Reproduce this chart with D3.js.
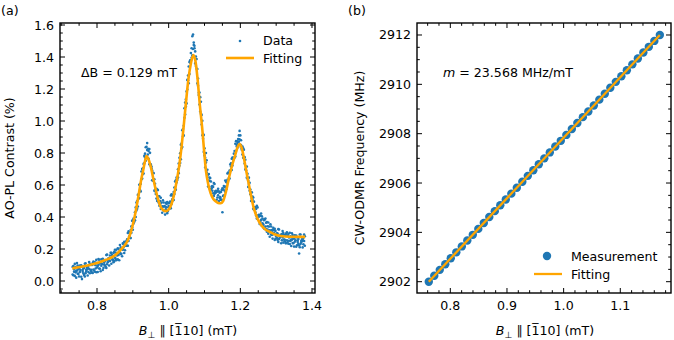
<!DOCTYPE html>
<meta charset="utf-8">
<script src="https://d3js.org/d3.v7.min.js"></script>
<style>
  body { margin: 0; background: #fff; }
  svg text { font-family: "DejaVu Sans", sans-serif; fill: #000; }
</style>
<body>
<script>
  // ---------- panel (a): AO-PL contrast vs field ----------
  var fieldA = [
    0.732,0.734,0.736,0.738,0.740,0.742,0.744,0.746,0.748,0.750,
    0.752,0.754,0.756,0.758,0.760,0.762,0.764,0.766,0.768,0.770,
    0.772,0.774,0.776,0.778,0.780,0.782,0.784,0.786,0.788,0.790,
    0.792,0.794,0.796,0.798,0.800,0.802,0.804,0.806,0.808,0.810,
    0.812,0.814,0.816,0.818,0.820,0.822,0.824,0.826,0.828,0.830,
    0.832,0.834,0.836,0.838,0.840,0.842,0.844,0.846,0.848,0.850,
    0.852,0.854,0.856,0.858,0.860,0.862,0.864,0.866,0.868,0.870,
    0.872,0.874,0.876,0.878,0.880,0.882,0.884,0.886,0.888,0.890,
    0.892,0.894,0.896,0.898,0.900,0.902,0.904,0.906,0.908,0.910,
    0.912,0.914,0.916,0.918,0.920,0.922,0.924,0.926,0.928,0.930,
    0.932,0.934,0.936,0.938,0.940,0.942,0.944,0.946,0.948,0.950,
    0.952,0.954,0.956,0.958,0.960,0.962,0.964,0.966,0.968,0.970,
    0.972,0.974,0.976,0.978,0.980,0.982,0.984,0.986,0.988,0.990,
    0.992,0.994,0.996,0.998,1.000,1.002,1.004,1.006,1.008,1.010,
    1.012,1.014,1.016,1.018,1.020,1.022,1.024,1.026,1.028,1.030,
    1.032,1.034,1.036,1.038,1.040,1.042,1.044,1.046,1.048,1.050,
    1.052,1.054,1.056,1.058,1.060,1.062,1.064,1.066,1.068,1.070,
    1.072,1.074,1.076,1.078,1.080,1.082,1.084,1.086,1.088,1.090,
    1.092,1.094,1.096,1.098,1.100,1.102,1.104,1.106,1.108,1.110,
    1.112,1.114,1.116,1.118,1.120,1.122,1.124,1.126,1.128,1.130,
    1.132,1.134,1.136,1.138,1.140,1.142,1.144,1.146,1.148,1.150,
    1.152,1.154,1.156,1.158,1.160,1.162,1.164,1.166,1.168,1.170,
    1.172,1.174,1.176,1.178,1.180,1.182,1.184,1.186,1.188,1.190,
    1.192,1.194,1.196,1.198,1.200,1.202,1.204,1.206,1.208,1.210,
    1.212,1.214,1.216,1.218,1.220,1.222,1.224,1.226,1.228,1.230,
    1.232,1.234,1.236,1.238,1.240,1.242,1.244,1.246,1.248,1.250,
    1.252,1.254,1.256,1.258,1.260,1.262,1.264,1.266,1.268,1.270,
    1.272,1.274,1.276,1.278,1.280,1.282,1.284,1.286,1.288,1.290,
    1.292,1.294,1.296,1.298,1.300,1.302,1.304,1.306,1.308,1.310,
    1.312,1.314,1.316,1.318,1.320,1.322,1.324,1.326,1.328,1.330,
    1.332,1.334,1.336,1.338,1.340,1.342,1.344,1.346,1.348,1.350,
    1.352,1.354,1.356,1.358,1.360,1.362,1.364,1.366,1.368,1.370,
    1.372,1.374,1.376,1.378,1.380
  ];
  // two sweeps of the measured contrast (%)
  var contrastSweep1 = [
    0.088,0.036,0.072,0.107,0.054,0.021,0.066,0.097,0.043,0.079,
    0.097,0.068,0.027,0.089,0.058,0.078,0.038,0.108,0.049,0.07,
    0.083,0.034,0.095,0.076,0.107,0.068,0.059,0.1,0.05,0.122,
    0.065,0.117,0.078,0.055,0.112,0.094,0.137,0.078,0.11,0.061,
    0.095,0.127,0.139,0.082,0.115,0.097,0.131,0.082,0.165,0.117,
    0.13,0.143,0.125,0.177,0.108,0.162,0.134,0.117,0.182,0.145,
    0.178,0.13,0.17,0.205,0.163,0.13,0.175,0.21,0.17,0.205,
    0.235,0.21,0.175,0.242,0.22,0.25,0.22,0.3,0.25,0.28,
    0.304,0.268,0.342,0.336,0.38,0.36,0.37,0.43,0.40,0.49,
    0.452,0.538,0.516,0.518,0.604,0.608,0.684,0.64,0.704,0.672,
    0.734,0.796,0.836,0.779,0.862,0.791,0.812,0.729,0.801,0.718,
    0.704,0.69,0.628,0.674,0.564,0.608,0.556,0.516,0.572,0.508,
    0.53,0.47,0.50,0.52,0.46,0.427,0.464,0.491,0.438,0.465,
    0.488,0.461,0.424,0.487,0.46,0.488,0.456,0.534,0.482,0.51,
    0.538,0.506,0.584,0.582,0.63,0.616,0.632,0.698,0.674,0.77,
    0.738,0.851,0.829,0.837,0.95,0.97,1.08,1.04,1.135,1.11,
    1.197,1.284,1.341,1.293,1.38,1.38,1.455,1.41,1.54,1.475,
    1.455,1.435,1.343,1.387,1.235,1.266,1.177,1.103,1.149,1.045,
    1.038,0.911,0.919,0.912,0.785,0.71,0.74,0.755,0.65,0.665,
    0.668,0.626,0.574,0.622,0.58,0.594,0.548,0.612,0.546,0.56,
    0.564,0.508,0.562,0.536,0.56,0.522,0.514,0.556,0.508,0.58,
    0.532,0.594,0.566,0.558,0.62,0.616,0.672,0.628,0.674,0.64,
    0.688,0.736,0.764,0.722,0.77,0.766,0.812,0.778,0.874,0.84,
    0.863,0.887,0.87,0.938,0.85,0.88,0.83,0.79,0.83,0.77,
    0.774,0.698,0.712,0.716,0.64,0.588,0.606,0.614,0.542,0.55,
    0.554,0.508,0.452,0.496,0.45,0.46,0.41,0.47,0.40,0.41,
    0.413,0.356,0.409,0.382,0.405,0.36,0.345,0.38,0.325,0.39,
    0.324,0.368,0.322,0.296,0.34,0.317,0.354,0.291,0.318,0.265,
    0.292,0.319,0.326,0.263,0.29,0.268,0.296,0.244,0.322,0.27,
    0.278,0.286,0.254,0.312,0.24,0.289,0.258,0.237,0.296,0.255,
    0.284,0.233,0.272,0.301,0.25,0.219,0.258,0.287,0.236,0.265,
    0.285,0.254,0.214,0.273,0.243,0.262,0.222,0.291,0.231,0.25,
    0.26,0.21,0.27,0.25,0.28
  ];
  var contrastSweep2 = [
    0.041,0.094,0.058,0.032,0.087,0.063,0.112,0.046,0.074,0.028,
    0.057,0.088,0.098,0.012,0.069,0.047,0.081,0.028,0.111,0.06,
    0.072,0.085,0.056,0.118,0.048,0.1,0.07,0.052,0.112,0.072,
    0.105,0.058,0.098,0.132,0.084,0.056,0.1,0.133,0.077,0.111,
    0.135,0.107,0.069,0.132,0.103,0.125,0.089,0.162,0.105,0.127,
    0.142,0.097,0.159,0.142,0.176,0.139,0.13,0.175,0.124,0.195,
    0.138,0.195,0.16,0.135,0.2,0.182,0.225,0.168,0.202,0.155,
    0.195,0.23,0.245,0.192,0.23,0.22,0.26,0.22,0.31,0.27,
    0.294,0.318,0.302,0.376,0.32,0.39,0.38,0.38,0.46,0.44,
    0.5,0.466,0.54,0.602,0.568,0.56,0.636,0.7,0.668,0.732,
    0.782,0.772,0.752,0.839,0.818,0.827,0.764,0.825,0.729,0.73,
    0.716,0.63,0.676,0.626,0.636,0.572,0.544,0.576,0.5,0.568,
    0.49,0.53,0.48,0.45,0.49,0.467,0.504,0.441,0.468,0.415,
    0.448,0.481,0.494,0.437,0.47,0.458,0.496,0.454,0.542,0.50,
    0.528,0.556,0.544,0.622,0.57,0.646,0.642,0.648,0.734,0.72,
    0.798,0.761,0.859,0.942,0.905,0.91,1.02,1.115,1.09,1.185,
    1.257,1.254,1.236,1.368,1.365,1.425,1.395,1.53,1.45,1.49,
    1.47,1.36,1.403,1.327,1.325,1.221,1.162,1.178,1.059,1.12,
    0.978,1.001,0.889,0.807,0.83,0.77,0.8,0.68,0.695,0.59,
    0.628,0.646,0.644,0.572,0.59,0.564,0.588,0.532,0.606,0.55,
    0.554,0.558,0.522,0.576,0.5,0.552,0.524,0.506,0.568,0.43,
    0.572,0.534,0.586,0.628,0.59,0.576,0.632,0.678,0.644,0.69,
    0.728,0.716,0.694,0.772,0.76,0.796,0.772,0.858,0.814,0.85,
    0.873,0.837,0.91,0.885,0.91,0.85,0.82,0.84,0.77,0.82,
    0.734,0.758,0.692,0.646,0.67,0.628,0.646,0.564,0.572,0.50,
    0.514,0.528,0.522,0.446,0.46,0.43,0.45,0.39,0.46,0.40,
    0.403,0.406,0.369,0.422,0.345,0.39,0.355,0.33,0.385,0.34,
    0.364,0.308,0.342,0.366,0.31,0.277,0.314,0.341,0.288,0.315,
    0.332,0.299,0.256,0.313,0.28,0.298,0.256,0.324,0.262,0.28,
    0.288,0.236,0.294,0.272,0.30,0.259,0.248,0.287,0.236,0.305,
    0.244,0.293,0.252,0.231,0.28,0.259,0.298,0.237,0.266,0.215,
    0.245,0.274,0.284,0.223,0.253,0.232,0.172,0.211,0.291,0.24,
    0.25,0.26,0.23,0.29,0.22
  ];
  // fitted curve (three Lorentzians)
  var fitFieldA = [0.731,0.76,0.79,0.82,0.85,0.87,0.885,0.895,0.903,0.91,0.917,0.923,0.929,0.934,0.938,0.943,0.950,0.957,0.964,0.971,0.978,0.985,0.992,0.999,1.006,1.015,1.022,1.029,1.036,1.042,1.048,1.055,1.062,1.069,1.075,1.080,1.087,1.094,1.099,1.104,1.110,1.117,1.124,1.131,1.138,1.145,1.152,1.160,1.169,1.178,1.187,1.193,1.198,1.204,1.211,1.218,1.225,1.232,1.239,1.248,1.258,1.270,1.281,1.295,1.313,1.340,1.381];
  var fitContrastA = [0.079,0.090,0.106,0.128,0.160,0.204,0.25,0.31,0.381,0.46,0.548,0.63,0.694,0.75,0.781,0.765,0.714,0.64,0.569,0.505,0.462,0.443,0.437,0.445,0.47,0.54,0.62,0.714,0.84,0.97,1.11,1.26,1.36,1.4125,1.37,1.277,1.10,0.944,0.81,0.69,0.61,0.55,0.515,0.498,0.488,0.486,0.50,0.56,0.652,0.73,0.798,0.84,0.856,0.83,0.756,0.67,0.589,0.51,0.444,0.39,0.35,0.322,0.308,0.292,0.281,0.277,0.276];
  var xTicksA = [0.8, 1.0, 1.2, 1.4];
  var yTicksA = [0.0, 0.2, 0.4, 0.6, 0.8, 1.0, 1.2, 1.4, 1.6];

  // ---------- panel (b): CW-ODMR frequency vs field ----------
  var fieldB = [0.762,0.7717,0.7814,0.7911,0.8008,0.8106,0.8203,0.830,0.8397,0.8494,0.8591,0.8688,0.8785,0.8882,0.8979,0.9077,0.9174,0.9271,0.9368,0.9465,0.9562,0.9659,0.9756,0.9853,0.9950,1.0048,1.0145,1.0242,1.0339,1.0436,1.0533,1.0630,1.0727,1.0824,1.0921,1.1019,1.1116,1.1213,1.1310,1.1407,1.1504,1.1601,1.1698];
  var freqB = [2902.00,2902.24,2902.48,2902.71,2902.95,2903.19,2903.43,2903.67,2903.90,2904.14,2904.38,2904.62,2904.86,2905.10,2905.33,2905.57,2905.81,2906.05,2906.29,2906.52,2906.76,2907.00,2907.24,2907.48,2907.71,2907.95,2908.19,2908.43,2908.67,2908.90,2909.14,2909.38,2909.62,2909.86,2910.10,2910.33,2910.57,2910.81,2911.05,2911.29,2911.52,2911.76,2912.00];
  var fitFieldB = [0.762, 1.1698];
  var fitFreqB = [2902.0, 2912.0];
  var xTicksB = [0.8, 0.9, 1.0, 1.1];
  var yTicksB = [2902, 2904, 2906, 2908, 2910, 2912];

  var blue = "#1f77b4", orange = "#ffa500";
  var fs = 12.6;

  var svg = d3.select("body").append("svg")
    .attr("width", 674).attr("height", 340);

  function minorValues(dom, step, majors) {
    var out = [];
    var k0 = Math.ceil(dom[0] / step - 1e-9), k1 = Math.floor(dom[1] / step + 1e-9);
    for (var k = k0; k <= k1; k++) {
      var v = +(k * step).toFixed(6);
      if (!majors.some(function (m) { return Math.abs(m - v) < 1e-6; })) out.push(v);
    }
    return out;
  }

  // frame with inward ticks on all four sides
  function frame(x, y, xMaj, xStep, yMaj, yStep, xFmt, yFmt) {
    var g = svg.append("g");
    var L = x.range()[0], R = x.range()[1], B = y.range()[0], T = y.range()[1];
    var xMin = minorValues(x.domain(), xStep, xMaj), yMin = minorValues(y.domain(), yStep, yMaj);
    function tickX(vals, len) {
      vals.forEach(function (v) {
        var px = x(v);
        g.append("line").attr("x1", px).attr("x2", px).attr("y1", B).attr("y2", B - len);
        g.append("line").attr("x1", px).attr("x2", px).attr("y1", T).attr("y2", T + len);
      });
    }
    function tickY(vals, len) {
      vals.forEach(function (v) {
        var py = y(v);
        g.append("line").attr("x1", L).attr("x2", L + len).attr("y1", py).attr("y2", py);
        g.append("line").attr("x1", R).attr("x2", R - len).attr("y1", py).attr("y2", py);
      });
    }
    tickX(xMaj, 5); tickX(xMin, 2.8);
    tickY(yMaj, 5); tickY(yMin, 2.8);
    g.selectAll("line").attr("stroke", "#000").attr("stroke-width", 1);
    g.append("rect").attr("x", L).attr("y", T).attr("width", R - L).attr("height", B - T)
      .attr("fill", "none").attr("stroke", "#000").attr("stroke-width", 1.4);
    g.selectAll(".xl").data(xMaj).enter().append("text")
      .attr("x", function (d) { return x(d); }).attr("y", B + 17)
      .attr("text-anchor", "middle").attr("font-size", fs).text(xFmt);
    g.selectAll(".yl").data(yMaj).enter().append("text")
      .attr("x", L - 6).attr("y", function (d) { return y(d) + 4.5; })
      .attr("text-anchor", "end").attr("font-size", fs).text(yFmt);
  }

  function xLabel(cx) {
    var t = svg.append("text").attr("x", cx).attr("y", 335)
      .attr("text-anchor", "middle").attr("font-size", fs);
    t.append("tspan").attr("font-style", "italic").text("B");
    t.append("tspan").attr("font-size", 9).attr("dy", 3).text("\u22A5");
    t.append("tspan").attr("dy", -3).text(" \u2225 [1\u0305" + "10] (mT)");
  }

  // ----- panel (a)
  var xa = d3.scaleLinear().domain([0.6967, 1.4084]).range([60, 315]);
  var ya = d3.scaleLinear().domain([-0.075, 1.6125]).range([293, 23]);

  var ptsA = [];
  fieldA.forEach(function (f, i) {
    ptsA.push([f, contrastSweep1[i]]);
    ptsA.push([f, contrastSweep2[i]]);
  });
  svg.append("g").selectAll("circle").data(ptsA).enter().append("circle")
    .attr("cx", function (d) { return xa(d[0]); })
    .attr("cy", function (d) { return ya(d[1]); })
    .attr("r", 1.3).attr("fill", blue);

  var fitA = fitFieldA.map(function (f, i) { return [f, fitContrastA[i]]; });
  svg.append("path").datum(fitA)
    .attr("fill", "none").attr("stroke", orange).attr("stroke-width", 2.6)
    .attr("d", d3.line().x(function (d) { return xa(d[0]); }).y(function (d) { return ya(d[1]); })
      .curve(d3.curveMonotoneX));

  frame(xa, ya, xTicksA, 0.05, yTicksA, 0.05, d3.format(".1f"), d3.format(".1f"));

  svg.append("circle").attr("cx", 240).attr("cy", 41).attr("r", 1.3).attr("fill", blue);
  svg.append("text").attr("x", 263).attr("y", 45).attr("font-size", fs).text("Data");
  svg.append("line").attr("x1", 226).attr("x2", 254).attr("y1", 58).attr("y2", 58)
    .attr("stroke", orange).attr("stroke-width", 2.6);
  svg.append("text").attr("x", 263).attr("y", 63).attr("font-size", fs).text("Fitting");
  svg.append("text").attr("x", 81).attr("y", 77).attr("font-size", fs).text("\u0394B = 0.129 mT");

  svg.append("text").attr("transform", "translate(13.5,158) rotate(-90)")
    .attr("text-anchor", "middle").attr("font-size", fs).text("AO-PL Contrast (%)");
  xLabel(188);
  svg.append("text").attr("x", 1).attr("y", 15).attr("font-size", fs).text("(a)");

  // ----- panel (b)
  var xb = d3.scaleLinear().domain([0.7412, 1.1895]).range([417, 671]);
  var yb = d3.scaleLinear().domain([2901.542, 2912.486]).range([293, 23]);

  svg.append("g").selectAll("circle").data(fieldB).enter().append("circle")
    .attr("cx", function (d) { return xb(d); })
    .attr("cy", function (d, i) { return yb(freqB[i]); })
    .attr("r", 4.2).attr("fill", blue);

  var fitB = fitFieldB.map(function (f, i) { return [f, fitFreqB[i]]; });
  svg.append("path").datum(fitB)
    .attr("fill", "none").attr("stroke", orange).attr("stroke-width", 2.3)
    .attr("d", d3.line().x(function (d) { return xb(d[0]); }).y(function (d) { return yb(d[1]); }));

  frame(xb, yb, xTicksB, 0.02, yTicksB, 0.5, d3.format(".1f"), d3.format("d"));

  svg.append("circle").attr("cx", 547).attr("cy", 256).attr("r", 4.2).attr("fill", blue);
  svg.append("text").attr("x", 571).attr("y", 260.5).attr("font-size", fs).text("Measurement");
  svg.append("line").attr("x1", 534).attr("x2", 562).attr("y1", 274).attr("y2", 274)
    .attr("stroke", orange).attr("stroke-width", 2.3);
  svg.append("text").attr("x", 571).attr("y", 278.5).attr("font-size", fs).text("Fitting");
  var ann = svg.append("text").attr("x", 443).attr("y", 76.5).attr("font-size", fs);
  ann.append("tspan").attr("font-style", "italic").text("m");
  ann.append("tspan").text(" = 23.568 MHz/mT");

  svg.append("text").attr("transform", "translate(364,158) rotate(-90)")
    .attr("text-anchor", "middle").attr("font-size", fs).text("CW-ODMR Frequency (MHz)");
  xLabel(545);
  svg.append("text").attr("x", 348).attr("y", 15).attr("font-size", fs).text("(b)");
</script>
</body>
